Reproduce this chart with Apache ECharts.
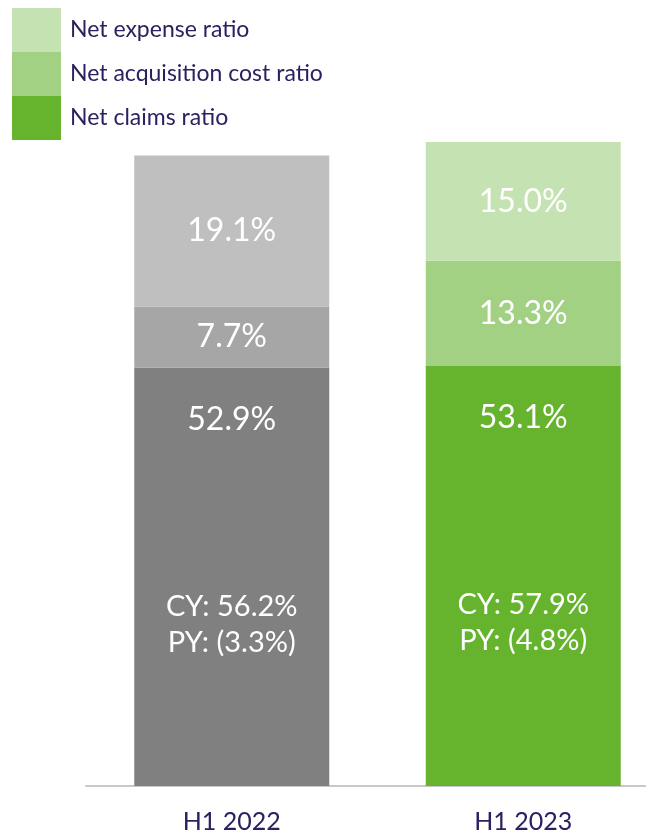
<!DOCTYPE html>
<html>
<head>
<meta charset="utf-8">
<script src="https://cdn.jsdelivr.net/npm/echarts@6/dist/echarts.min.js"></script>
<style>
  html, body { margin: 0; padding: 0; background: #fff; }
  #main { width: 646px; height: 831px; }
</style>
</head>
<body>
<div id="main"></div>
<script>
// periods
var categories = ['H1 2022', 'H1 2023'];
// ratios in %
var claims = [52.9, 53.1];
var acquisition = [7.7, 13.3];
var expense = [19.1, 15.0];
// current year / prior year split of the claims ratio
var cyRatio = ['56.2%', '57.9%'];
var pyRatio = ['(3.3%)', '(4.8%)'];

var navy = '#2b2160';
var font = 'Lato';
// prior year bar is grey, current year green
var greys = { claims: '#808080', acq: '#a6a6a6', exp: '#bfbfbf' };
var greens = { claims: '#66b32e', acq: '#a3d183', exp: '#c5e3b2' };

function items(values, key) {
  return values.map(function (v, i) {
    return { value: v, itemStyle: { color: i === 0 ? greys[key] : greens[key] } };
  });
}

var valueLabel = {
  show: true,
  color: '#fff',
  fontFamily: font,
  fontSize: 32,
  formatter: function (p) { return p.value.toFixed(1) + '%'; }
};

var chart = echarts.init(document.getElementById('main'));
chart.setOption({
  animation: false,
  legend: {
    orient: 'vertical',
    left: 12,
    top: 8,
    padding: 0,
    itemWidth: 49,
    itemHeight: 44,
    itemGap: 0,
    icon: 'rect',
    textStyle: { color: navy, fontFamily: font, fontSize: 23, padding: [0, 0, 0, 4] },
    data: ['Net expense ratio', 'Net acquisition cost ratio', 'Net claims ratio']
  },
  grid: { left: 86, width: 583, top: 74, bottom: 45, outerBoundsMode: 'none' },
  xAxis: {
    type: 'category',
    data: categories,
    axisTick: { show: false },
    axisLine: { lineStyle: { color: '#c8c8c8', width: 2 } },
    axisLabel: { color: navy, fontFamily: font, fontSize: 25, margin: 23 }
  },
  yAxis: { type: 'value', min: 0, max: 90, show: false, splitLine: { show: false } },
  series: [
    {
      name: 'Net claims ratio',
      type: 'bar',
      stack: 'r',
      barWidth: 195,
      color: greens.claims,
      data: items(claims, 'claims'),
      label: {
        show: true,
        position: 'insideTop',
        distance: 33,
        formatter: function (p) {
          return '{a|' + p.value.toFixed(1) + '%}\n{s|}\n{b|CY: ' + cyRatio[p.dataIndex] +
            '}\n{b|PY: ' + pyRatio[p.dataIndex] + '}';
        },
        rich: {
          a: { color: '#fff', fontFamily: font, fontSize: 32, lineHeight: 38, align: 'center' },
          s: { height: 150, lineHeight: 150 },
          b: { color: '#fff', fontFamily: font, fontSize: 29, lineHeight: 36, align: 'center' }
        }
      }
    },
    {
      name: 'Net acquisition cost ratio',
      type: 'bar',
      stack: 'r',
      color: greens.acq,
      data: items(acquisition, 'acq'),
      label: Object.assign({ position: 'inside' }, valueLabel)
    },
    {
      name: 'Net expense ratio',
      type: 'bar',
      stack: 'r',
      color: greens.exp,
      data: items(expense, 'exp'),
      label: Object.assign({ position: 'inside' }, valueLabel)
    }
  ]
});
</script>
</body>
</html>
